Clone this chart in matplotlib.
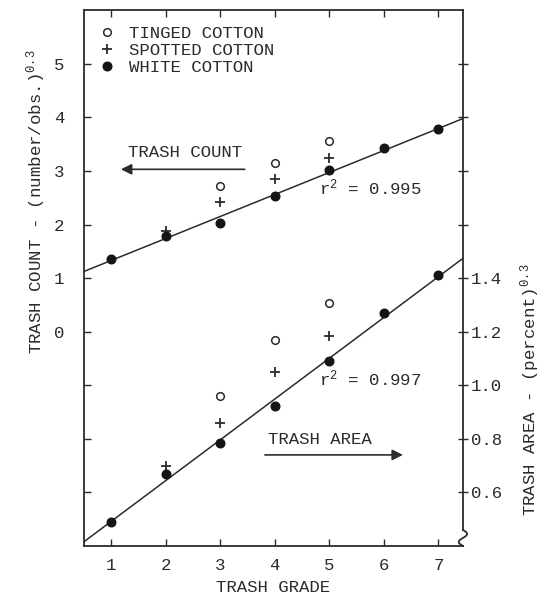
import matplotlib
matplotlib.use("Agg")
import matplotlib.pyplot as plt
import numpy as np
from matplotlib.ticker import FixedFormatter, FixedLocator

plt.rcParams["font.family"] = ["Liberation Mono", "DejaVu Sans Mono"]
plt.rcParams["mathtext.fontset"] = "custom"
plt.rcParams["mathtext.rm"] = "Liberation Mono"
plt.rcParams["mathtext.it"] = "Liberation Mono"
plt.rcParams["mathtext.bf"] = "Liberation Mono"

INK = "#2b2b2b"
FS = 12.5

# trash grade on the x axis
grade = [1, 2, 3, 4, 5, 6, 7]
grade_partial = [2, 3, 4, 5]
grade_tinged = [3, 4, 5]

# trash count, (number/obs.)^0.3
count_white = [1.36, 1.79, 2.03, 2.53, 3.01, 3.42, 3.78]
count_spotted = [1.87, 2.42, 2.84, 3.25]
count_tinged = [2.72, 3.14, 3.55]

# trash area, (percent)^0.3
area_white = [0.49, 0.67, 0.786, 0.922, 1.09, 1.27, 1.41]
area_spotted = [0.70, 0.859, 1.05, 1.183]
area_tinged = [0.96, 1.168, 1.307]

r2_count = "0.995"
r2_area = "0.997"

x_ticks = [1, 2, 3, 4, 5, 6, 7]
count_ticks = [-3, -2, -1, 0, 1, 2, 3, 4, 5]
count_labels = ["", "", "", "0", "1", "2", "3", "4", "5"]
area_ticks = [0.6, 0.8, 1.0, 1.2, 1.4, 1.6, 1.8, 2.0, 2.2]
area_labels = ["0.6", "0.8", "1.0", "1.2", "1.4", "", "", "", ""]

fig = plt.figure(figsize=(5.44, 5.99), dpi=100)
ax = fig.add_axes([0.154, 0.0885, 0.697, 0.8945])
ax2 = ax.twinx()

ax.set_xlim(0.5, 7.45)
ax.set_ylim(-4, 6)
ax2.set_ylim(0.4, 2.4)

# regression lines through the white cotton points
xfit = np.array(ax.get_xlim())
c_slope, c_int = np.polyfit(grade, count_white, 1)
a_slope, a_int = np.polyfit(grade, area_white, 1)
ax.plot(xfit, c_int + c_slope * xfit, color=INK, lw=1.1, zorder=2)
ax2.plot(xfit, a_int + a_slope * xfit, color=INK, lw=1.1, zorder=2)

ax.plot(grade_tinged, count_tinged, "o", ms=5.5, mfc="white", mec=INK, mew=1.1,
        ls="none", label="TINGED COTTON")
ax.plot(grade_partial, count_spotted, "+", ms=7, mec=INK, mew=1.3,
        ls="none", label="SPOTTED COTTON")
ax.plot(grade, count_white, "o", ms=6.2, color="#151515", ls="none",
        label="WHITE COTTON", zorder=3)

ax2.plot(grade_tinged, area_tinged, "o", ms=5.5, mfc="white", mec=INK, mew=1.1, ls="none")
ax2.plot(grade_partial, area_spotted, "+", ms=7, mec=INK, mew=1.3, ls="none")
ax2.plot(grade, area_white, "o", ms=6.2, color="#151515", ls="none", zorder=3)

# ticks
ax.xaxis.set_major_locator(FixedLocator(x_ticks))
ax.yaxis.set_major_locator(FixedLocator(count_ticks))
ax.yaxis.set_major_formatter(FixedFormatter(count_labels))
ax2.yaxis.set_major_locator(FixedLocator(area_ticks))
ax2.yaxis.set_major_formatter(FixedFormatter(area_labels))

ax.tick_params(axis="x", which="major", direction="in", top=True, length=5,
               width=1.0, color=INK, labelsize=FS, labelcolor=INK, pad=9)
ax.tick_params(axis="y", which="major", direction="in", length=5, width=1.0,
               color=INK, labelsize=FS, labelcolor=INK, pad=14)
ax2.tick_params(axis="y", which="major", direction="inout", length=7, width=1.0,
                color=INK, labelsize=FS, labelcolor=INK, pad=2)

for name in ["top", "bottom", "left"]:
    ax.spines[name].set_color(INK)
    ax.spines[name].set_linewidth(1.3)
    ax2.spines[name].set_visible(False)
ax.spines["right"].set_visible(False)
ax2.spines["right"].set_color(INK)
ax2.spines["right"].set_linewidth(1.3)

# broken right axis near the bottom
brk = 0.03
ax2.spines["right"].set_bounds(0.4 + brk * 2.0, 2.4)
t = np.linspace(0, 1, 40)
ax2.plot(1 + 0.011 * np.sin(2 * np.pi * t), brk * (1 - t), transform=ax2.transAxes,
         color=INK, lw=1.3, clip_on=False)

# legend
leg = ax.legend(loc="upper left", bbox_to_anchor=(0.038, 0.971), frameon=False,
                fontsize=FS, handlelength=1.0, handletextpad=0.75, labelspacing=0.12,
                borderpad=0, borderaxespad=0)
for txt in leg.get_texts():
    txt.set_color(INK)

# annotations
ax.text(1.31, 3.35, "TRASH COUNT", fontsize=FS, color=INK, va="center", ha="left")
ax.annotate("", xy=(1.18, 3.03), xytext=(3.45, 3.03),
            arrowprops=dict(arrowstyle="-|>", color=INK, lw=1.2, mutation_scale=16,
                            shrinkA=0, shrinkB=0))
ax.text(4.81, 2.55, "r$^{2}$ = " + r2_count, fontsize=FS, color=INK,
        va="baseline", ha="left")

ax.text(3.87, -2.02, "TRASH AREA", fontsize=FS, color=INK, va="center", ha="left")
ax.annotate("", xy=(6.35, -2.30), xytext=(3.82, -2.30),
            arrowprops=dict(arrowstyle="-|>", color=INK, lw=1.2, mutation_scale=16,
                            shrinkA=0, shrinkB=0))
ax.text(4.81, -1.01, "r$^{2}$ = " + r2_area, fontsize=FS, color=INK,
        va="baseline", ha="left")

# axis titles
fig.text(36 / 544, 1 - 202 / 599, "TRASH COUNT - (number/obs.)$^{0.3}$",
         rotation=90, ha="center", va="center", fontsize=FS, color=INK)
fig.text(530 / 544, 1 - 390 / 599, "TRASH AREA - (percent)$^{0.3}$",
         rotation=90, ha="center", va="center", fontsize=FS, color=INK)
fig.text(273 / 544, 1 - 588 / 599, "TRASH GRADE", ha="center", va="center",
         fontsize=FS, color=INK)

fig.savefig("out.png", dpi=100, facecolor="white")
